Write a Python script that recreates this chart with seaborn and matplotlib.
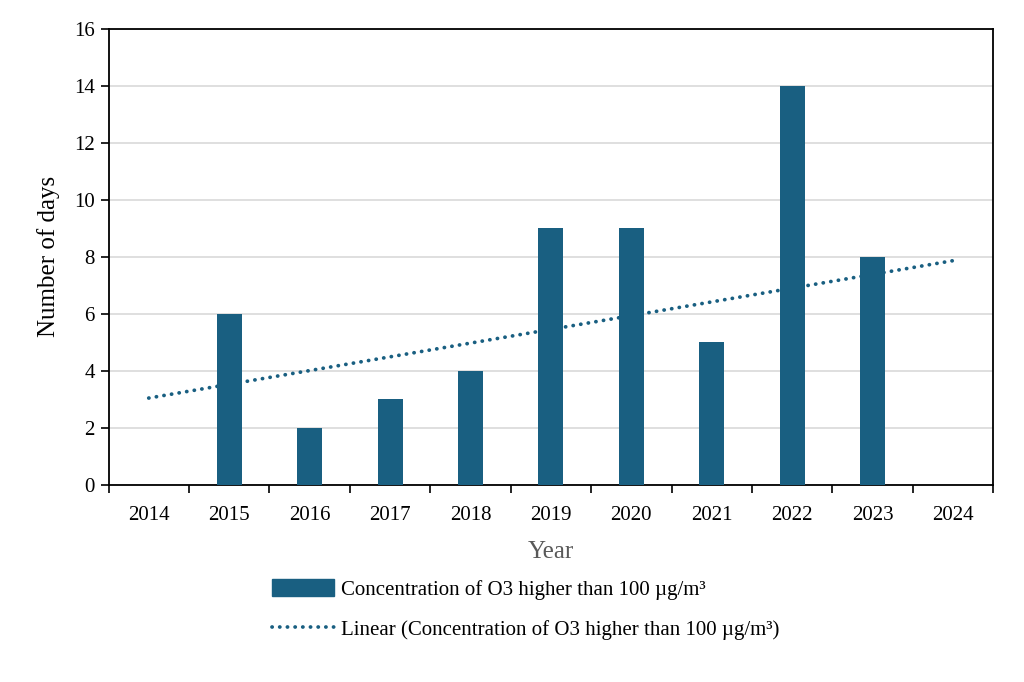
import numpy as np
import pandas as pd
import matplotlib
matplotlib.use("Agg")
import matplotlib.pyplot as plt
import seaborn as sns
from matplotlib.patches import Patch
from matplotlib.lines import Line2D

years = ["2014", "2015", "2016", "2017", "2018", "2019", "2020", "2021", "2022", "2023", "2024"]
days = [0, 6, 2, 3, 4, 9, 9, 5, 14, 8, 0]
series_name = "Concentration of O3 higher than 100 \u00b5g/m\u00b3"

bar_color = "#195f81"

sns.set_theme(style="white")
plt.rcParams['font.family'] = ['Liberation Serif', 'DejaVu Serif']
plt.rcParams['text.color'] = "black"

df = pd.DataFrame({"year": years, "days": days, "pos": np.arange(len(years))})

fig, ax = plt.subplots(figsize=(10.24, 6.82), dpi=100)
fig.subplots_adjust(left=0.106, right=0.97, top=0.958, bottom=0.289)

dots = (0, (0.05, 2.0))

sns.barplot(data=df, x="year", y="days", order=years, color=bar_color,
            width=0.31, saturation=1, linewidth=0, ax=ax, zorder=3)
# Excel-style linear trendline fitted to the bar values
sns.regplot(data=df, x="pos", y="days", scatter=False, ci=None, truncate=True,
            color=bar_color,
            line_kws=dict(ls=dots, lw=2.7, dash_capstyle="round", zorder=4), ax=ax)

ax.set_xlim(-0.5, len(years) - 0.5)
ax.set_ylim(0, 16)
ax.set_yticks(range(0, 17, 2))
ax.set_xticks(range(len(years)))
ax.set_xticklabels(years)
ax.set_xticks(np.arange(-0.5, len(years), 1), minor=True)
ax.tick_params(axis="x", which="major", length=0, pad=15, labelsize=15, colors="black")
ax.tick_params(axis="x", which="minor", length=6, width=1.2, direction="out", color="black", bottom=True)
ax.tick_params(axis="y", length=6, width=1.2, direction="out", left=True, labelsize=15, pad=4, colors="black")
ax.yaxis.grid(True, color="#d9d9d9", lw=1.2, zorder=0)
ax.set_axisbelow(True)
for s in ax.spines.values():
    s.set_color("black")
    s.set_linewidth(1.3)

ax.set_xlabel("Year", fontsize=18, color="#595959", labelpad=12)
ax.set_ylabel("Number of days", fontsize=18, color="black", labelpad=10)

handles = [Patch(facecolor=bar_color, edgecolor=bar_color),
           Line2D([0], [0], color=bar_color, ls=dots, lw=2.7, dash_capstyle="round")]
labels = [series_name, "Linear (" + series_name + ")"]
fig.legend(handles, labels, loc="upper left", bbox_to_anchor=(0.257, 0.163),
           frameon=False, fontsize=15, handlelength=3.0, handleheight=0.85,
           handletextpad=0.35, labelspacing=0.95, borderaxespad=0, labelcolor="black")

plt.savefig("out.png", dpi=100)
